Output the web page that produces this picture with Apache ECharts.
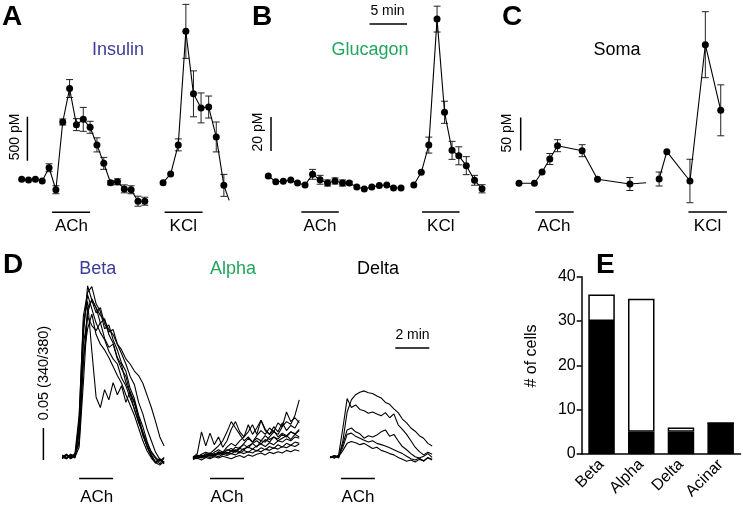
<!DOCTYPE html>
<html><head><meta charset="utf-8">
<script src="https://cdn.jsdelivr.net/npm/echarts@6/dist/echarts.min.js"></script>
<style>html,body{margin:0;padding:0;background:#fff}#c{width:743px;height:508px}</style>
</head><body><div id="c"></div>
<script>
// ---------------- DATA ----------------
// Panel A: insulin secretion (pM) vs time (min)
const insulinT1 = [0,0.9,1.8,2.7,3.6,4.5,5.4,6.3,7.2,8.1,9,9.9,10.8,11.7,12.6,13.5,14.4,15.3,16.2];
const insulinV1 = [350,340,350,330,480,230,1000,1380,970,1030,940,740,530,310,320,240,230,100,100];
const insulinE1 = [0,0,0,0,45,45,34,102,68,136,68,80,68,23,34,45,45,57,45];
const insulinT2 = [18.6,19.6,20.6,21.6,22.6,23.6,24.6,25.6,26.6,27.3];
const insulinV2 = [310,410,740,2030,1320,1160,1170,830,280,110];
const insulinE2 = [0,0,68,307,261,170,125,170,125,0];
const insulinDot2 = [1,1,1,1,1,1,1,1,1,0];
const insulinStimOn = [4, 18.8], insulinStimOff = [9, 23.8];
// Panel B: glucagon (pM)
const glucagonT1 = [0,1,2,3,3.9,4.9,5.9,6.9,7.9,8.9,9.9,10.8,11.8,12.8,13.8,14.8,15.8,16.7,17.7];
const glucagonV1 = [14.1,10.8,11.0,11.8,10.0,8.8,15.1,11.9,10.0,11.2,10.0,10.0,7.6,6.5,7.6,8.6,8.8,7.1,7.1];
const glucagonE1 = [0,0,0,0,0,0,2.9,2.6,1.8,1.8,1.8,1.0,0,0,0,0,0,0,0];
const glucagonT2 = [19.4,20.4,21.4,22.5,23.5,24.5,25.4,26.4,27.5,28.5];
const glucagonV2 = [8.8,16.3,32.3,106.4,51.6,29.2,26.0,20.2,11.6,6.6];
const glucagonE2 = [0,0,4.7,7.6,6.5,5.3,5.3,5.3,2.9,2.4];
const glucagonStimOn = [4.4, 20.5], glucagonStimOff = [9.4, 25.5];
// Panel C: somatostatin (pM)
const somaT1 = [0,2,3,4,5,8.2,10.2,14.4,16.5];
const somaV1 = [25.3,25.3,42.4,62.1,82.3,74.7,31.4,24.2,26.2];
const somaE1 = [0,0,0,8.3,9.1,9.1,0,9.8,0];
const somaDot1 = [1,1,1,1,1,1,1,1,0];
const somaT2 = [18.2,19.2,22.2,24.2,26.2];
const somaV2 = [31.8,73.2,28.8,235.3,135.9];
const somaE2 = [10.6,0,32.9,50,38.6];
const somaStimOn = [2.1, 22], somaStimOff = [7.1, 27];
const stimNames = ['ACh', 'KCl'];
// scale bars
const insulinScale = 500, glucagonScale = 20, somaScale = 50, timeScaleMin = 5;
// Panel D: Ca2+ traces (340/380 ratio change), sampled every 15 s
const sampleDt = 15;
const betaStart = 78, alphaStart = 540, deltaStart = 1024;
const betaACh = [138, 258], alphaACh = [600, 720], deltaACh = [1062, 1182];
const traceScale = 0.05, traceTimeScale = 120;
const betaTraces = [
 [0.004,0.009,0.003,0.007,0.040,0.195,0.272,0.250,0.238,0.214,0.221,0.196,0.183,0.160,0.148,0.121,0.104,0.079,0.061,0.038,0.022,0.008,-0.004,-0.008,-0.002],
 [0.006,0.002,0.008,0.004,0.060,0.225,0.262,0.271,0.244,0.232,0.205,0.211,0.188,0.172,0.151,0.139,0.112,0.096,0.070,0.052,0.029,0.011,0.002,-0.006,0.003],
 [0.002,0.007,0.005,0.010,0.025,0.150,0.238,0.249,0.230,0.238,0.213,0.200,0.204,0.181,0.166,0.150,0.131,0.118,0.090,0.072,0.048,0.030,0.012,0.001,-0.005],
 [0.008,0.004,0.006,0.003,0.050,0.180,0.224,0.210,0.202,0.215,0.190,0.176,0.181,0.158,0.142,0.131,0.104,0.092,0.066,0.041,0.020,0.006,-0.003,0.002,-0.004],
 [0.003,0.009,0.004,0.008,0.070,0.215,0.248,0.170,0.098,0.082,0.110,0.094,0.121,0.102,0.116,0.090,0.107,0.088,0.066,0.042,0.022,0.006,-0.004,0.001,-0.006],
 [0.005,0.002,0.007,0.004,0.020,0.120,0.230,0.252,0.238,0.226,0.218,0.204,0.196,0.181,0.172,0.158,0.150,0.139,0.132,0.120,0.101,0.082,0.060,0.036,0.022],
 [0.007,0.003,0.009,0.005,0.045,0.205,0.258,0.236,0.214,0.199,0.188,0.170,0.158,0.150,0.128,0.116,0.097,0.080,0.058,0.044,0.026,0.013,0.004,-0.002,0.004],
 [0.004,0.008,0.002,0.006,0.030,0.160,0.205,0.228,0.196,0.181,0.172,0.160,0.146,0.132,0.120,0.102,0.086,0.070,0.050,0.030,0.014,0.003,-0.005,0.000,-0.003]
];
const alphaTraces = [
 [0.004,0.010,0.044,0.022,0.042,0.024,0.036,0.020,0.030,0.048,0.060,0.044,0.036,0.055,0.040,0.050,0.062,0.046,0.040,0.052,0.044,0.058,0.046,0.054,0.050,0.062],
 [0.002,0.006,0.004,0.008,0.006,0.010,0.008,0.012,0.010,0.014,0.012,0.018,0.016,0.022,0.026,0.020,0.030,0.028,0.036,0.044,0.040,0.052,0.060,0.056,0.070,0.094],
 [0.005,0.003,0.007,0.005,0.009,0.007,0.012,0.010,0.016,0.014,0.020,0.018,0.026,0.034,0.028,0.038,0.046,0.040,0.050,0.044,0.058,0.052,0.075,0.060,0.066,0.058],
 [0.003,0.008,0.005,0.010,0.007,0.012,0.016,0.012,0.020,0.026,0.022,0.030,0.036,0.044,0.055,0.040,0.062,0.048,0.040,0.046,0.036,0.042,0.038,0.044,0.040,0.046],
 [0.006,0.004,0.009,0.012,0.010,0.016,0.022,0.030,0.044,0.060,0.050,0.040,0.030,0.036,0.028,0.034,0.030,0.038,0.032,0.036,0.030,0.034,0.038,0.032,0.040,0.036],
 [0.002,0.005,0.003,0.006,0.004,0.007,0.005,0.009,0.007,0.010,0.008,0.012,0.010,0.013,0.011,0.015,0.013,0.017,0.015,0.019,0.017,0.021,0.019,0.023,0.021,0.025],
 [0.004,0.002,0.006,0.004,0.008,0.006,0.010,0.012,0.009,0.014,0.016,0.013,0.018,0.020,0.017,0.022,0.025,0.021,0.027,0.024,0.030,0.028,0.033,0.030,0.036,0.034],
 [0.001,0.003,0.000,0.004,0.002,0.005,0.003,0.006,0.004,0.002,0.005,0.007,0.004,0.008,0.006,0.009,0.011,0.008,0.012,0.010,0.013,0.011,0.015,0.013,0.016,0.014],
 [0.005,0.007,0.004,0.008,0.011,0.008,0.013,0.010,0.015,0.018,0.014,0.020,0.024,0.019,0.026,0.030,0.025,0.032,0.028,0.036,0.033,0.040,0.036,0.044,0.041,0.048],
 [0.003,0.006,0.008,0.005,0.009,0.007,0.011,0.008,0.012,0.010,0.014,0.011,0.015,0.012,0.017,0.014,0.019,0.016,0.021,0.018,0.024,0.020,0.026,0.023,0.028,0.026]
];
const deltaTraces = [
 [0.004,0.007,0.003,0.030,0.075,0.094,0.102,0.106,0.108,0.105,0.104,0.100,0.097,0.090,0.087,0.080,0.074,0.064,0.058,0.050,0.045,0.038,0.034,0.026,0.022],
 [0.005,0.003,0.008,0.050,0.096,0.082,0.086,0.079,0.077,0.073,0.075,0.072,0.069,0.074,0.066,0.072,0.055,0.048,0.040,0.030,0.020,0.013,0.008,0.012,0.009],
 [0.003,0.006,0.004,0.025,0.047,0.050,0.044,0.041,0.034,0.038,0.036,0.039,0.044,0.047,0.037,0.040,0.030,0.021,0.016,0.010,0.005,0.003,0.006,0.010,0.004],
 [0.006,0.003,0.007,0.020,0.040,0.042,0.037,0.034,0.031,0.028,0.030,0.026,0.024,0.022,0.019,0.016,0.013,0.010,0.006,0.002,0.000,0.003,-0.002,0.004,0.001],
 [0.004,0.007,0.005,0.015,0.026,0.029,0.027,0.024,0.026,0.022,0.018,0.020,0.015,0.013,0.010,0.008,0.004,0.001,-0.002,0.000,-0.003,0.001,-0.001,0.003,0.000]
];
// Panel E: number of cells
const cellTypes = ['Beta','Alpha','Delta','Acinar'];
const responders = [30,5,5,7];
const nonResponders = [6,30,1,0];
const countAxisName = '# of cells';

// ---------------- LAYOUT ----------------
const FONT = "'Liberation Sans', Arial, Helvetica, sans-serif";
const BLUE = '#3b3b98', GREEN = '#22a55e';
function gridFor(x0px, pxX, y0px, pxY, xmin, xmax, ymin, ymax) {
  return {left: x0px + xmin * pxX, top: y0px - ymax * pxY,
          width: (xmax - xmin) * pxX, height: (ymax - ymin) * pxY};
}
const panels = [
  {g: gridFor(21.7, 7.6, 210, 44/500, -1.8, 28.6, -250, 2250), x:[-1.8,28.6], y:[-250,2250]},
  {g: gridFor(268.3, 7.5, 200, 1.7, -1.8, 29.5, -19, 111), x:[-1.8,29.5], y:[-19,111]},
  {g: gridFor(519, 7.7, 200, 0.66, -2.5, 28.5, -50, 285), x:[-2.5,28.5], y:[-50,285]},
  {g: gridFor(40, 17/60, 460, 640, 0, 1410, -0.06, 0.30), x:[0,1410], y:[-0.06,0.30]}
];
const grids = panels.map(p => p.g);
grids.push({left: 581.7, top: 276.7, width: 158.8, height: 177.3});
const xAxes = panels.map((p, i) => ({type:'value', gridIndex:i, min:p.x[0], max:p.x[1], show:false}));
const yAxes = panels.map((p, i) => ({type:'value', gridIndex:i, min:p.y[0], max:p.y[1], show:false}));
xAxes.push({type:'category', gridIndex:4, data: cellTypes,
  axisLine:{lineStyle:{color:'#000', width:1.5}},
  axisTick:{alignWithLabel:true, length:5, lineStyle:{color:'#000', width:1.5}},
  axisLabel:{rotate:45, color:'#000', fontSize:16, fontFamily:FONT, margin:8}});
yAxes.push({type:'value', gridIndex:4, min:0, max:40, interval:10,
  axisLine:{show:true, lineStyle:{color:'#000', width:1.5}},
  axisTick:{show:true, length:5, lineStyle:{color:'#000', width:1.5}},
  axisLabel:{color:'#000', fontSize:16, fontFamily:FONT, margin:6},
  splitLine:{show:false}});

const series = [];
function seg(gi, T, V, dots) {
  series.push({type:'line', xAxisIndex:gi, yAxisIndex:gi, z:4,
    data: T.map((t, i) => (dots && !dots[i]) ? {value:[t, V[i]], symbol:'none'} : [t, V[i]]),
    symbol:'circle', symbolSize:7, itemStyle:{color:'#000'},
    lineStyle:{color:'#000', width:1.1}});
}
function errs(gi, T, V, E) {
  series.push({type:'custom', xAxisIndex:gi, yAxisIndex:gi, z:3,
    data: T.map((t, i) => [t, V[i], E[i]]), encode:{x:0, y:1},
    renderItem: function (params, api) {
      const x = api.value(0), y = api.value(1), e = api.value(2);
      if (!e) return null;
      const a = api.coord([x, y + e]), b = api.coord([x, y - e]);
      const st = {stroke:'#222', lineWidth:1};
      return {type:'group', children:[
        {type:'line', shape:{x1:a[0], y1:a[1], x2:b[0], y2:b[1]}, style:st},
        {type:'line', shape:{x1:a[0]-3.5, y1:a[1], x2:a[0]+3.5, y2:a[1]}, style:st},
        {type:'line', shape:{x1:b[0]-3.5, y1:b[1], x2:b[0]+3.5, y2:b[1]}, style:st}]};
    }});
}
function bar(gi, pts, w) {
  series.push({type:'line', xAxisIndex:gi, yAxisIndex:gi, data:pts, symbol:'none',
    lineStyle:{color:'#000', width:w || 1.5}, silent:true});
}
// A
seg(0, insulinT1, insulinV1); errs(0, insulinT1, insulinV1, insulinE1);
seg(0, insulinT2, insulinV2, insulinDot2); errs(0, insulinT2, insulinV2, insulinE2);
// B
seg(1, glucagonT1, glucagonV1); errs(1, glucagonT1, glucagonV1, glucagonE1);
seg(1, glucagonT2, glucagonV2); errs(1, glucagonT2, glucagonV2, glucagonE2);
// C
seg(2, somaT1, somaV1, somaDot1); errs(2, somaT1, somaV1, somaE1);
seg(2, somaT2, somaV2); errs(2, somaT2, somaV2, somaE2);
// stimulus bars (y positions are layout levels below the traces)
const stimY = [-25, -7, -18];
[[insulinStimOn, insulinStimOff], [glucagonStimOn, glucagonStimOff], [somaStimOn, somaStimOff]].forEach((s, gi) => {
  s[0].forEach((on, k) => bar(gi, [[on, stimY[gi]], [s[1][k], stimY[gi]]]));
});
// scale bars
bar(0, [[0.75, 560], [0.75, 560 + insulinScale]]);
bar(1, [[0.36, 28.8], [0.36, 28.8 + glucagonScale]]);
bar(1, [[13.5, 103.5], [13.5 + timeScaleMin, 103.5]]);
bar(2, [[0.22, 75], [0.22, 75 + somaScale]]);
// D traces
[[betaTraces, betaStart], [alphaTraces, alphaStart], [deltaTraces, deltaStart]].forEach(([tr, st]) => {
  tr.forEach(v => series.push({type:'line', xAxisIndex:3, yAxisIndex:3, symbol:'none',
    data: v.map((r, i) => [st + i * sampleDt, r]), lineStyle:{color:'#000', width:1.1}, silent:true}));
});
[betaACh, alphaACh, deltaACh].forEach(a => bar(3, [[a[0], -0.029], [a[1], -0.029]]));
bar(3, [[12, 0], [12, traceScale]]);
bar(3, [[1254, 0.175], [1254 + traceTimeScale, 0.175]]);
// E bars
series.push({type:'bar', xAxisIndex:4, yAxisIndex:4, stack:'cells', data:responders, barWidth:26.5,
  itemStyle:{color:'#000', borderColor:'#000', borderWidth:1.5}});
series.push({type:'bar', xAxisIndex:4, yAxisIndex:4, stack:'cells', data:nonResponders, barWidth:26.5,
  itemStyle:{color:'#fff', borderColor:'#000', borderWidth:1.5}});

// ---------------- TEXT ----------------
function txt(t, x, y, size, opts) {
  opts = opts || {};
  return {type:'text', x:x, y:y, rotation: opts.rot || 0, z:10,
    style:{text:t, font:(opts.bold ? 'bold ' : '') + size + 'px ' + FONT, fill: opts.color || '#000',
      align: opts.align || 'center', verticalAlign:'middle'}};
}
const graphic = [
  txt('A', 2, 17, 28, {bold:true, align:'left'}),
  txt('B', 252, 17, 28, {bold:true, align:'left'}),
  txt('C', 502, 17, 28, {bold:true, align:'left'}),
  txt('D', 3, 265, 28, {bold:true, align:'left'}),
  txt('E', 596, 265, 28, {bold:true, align:'left'}),
  txt('Insulin', 118, 50, 18, {color:BLUE}),
  txt('Glucagon', 370, 50, 18, {color:GREEN}),
  txt('Soma', 617, 50, 18),
  txt('Beta', 97.7, 269, 18, {color:BLUE}),
  txt('Alpha', 233, 269, 18, {color:GREEN}),
  txt('Delta', 378, 269, 18),
  txt(stimNames[0], 71.5, 226, 17), txt(stimNames[1], 183.3, 226, 17),
  txt(stimNames[0], 320, 226, 17), txt(stimNames[1], 440.8, 226, 17),
  txt(stimNames[0], 554, 226, 17), txt(stimNames[1], 707.5, 226, 17),
  txt(stimNames[0], 96.7, 497, 17), txt(stimNames[0], 227, 497, 17), txt(stimNames[0], 358, 497, 17),
  txt(timeScaleMin + ' min', 387.5, 11, 14),
  txt(traceTimeScale / 60 + ' min', 412.5, 335, 14),
  txt(insulinScale + ' pM', 15, 137, 14, {rot:Math.PI/2}),
  txt(glucagonScale + ' pM', 258.5, 132, 14, {rot:Math.PI/2}),
  txt(somaScale + ' pM', 507, 133, 14, {rot:Math.PI/2}),
  txt(traceScale + ' (340/380)', 44, 373, 14.5, {rot:Math.PI/2}),
  txt(countAxisName, 532, 356, 16, {rot:Math.PI/2})
];

const chart = echarts.init(document.getElementById('c'), null, {renderer:'canvas'});
chart.setOption({animation:false, backgroundColor:'#fff', grid:grids, xAxis:xAxes, yAxis:yAxes, series:series, graphic:graphic});
</script></body></html>
